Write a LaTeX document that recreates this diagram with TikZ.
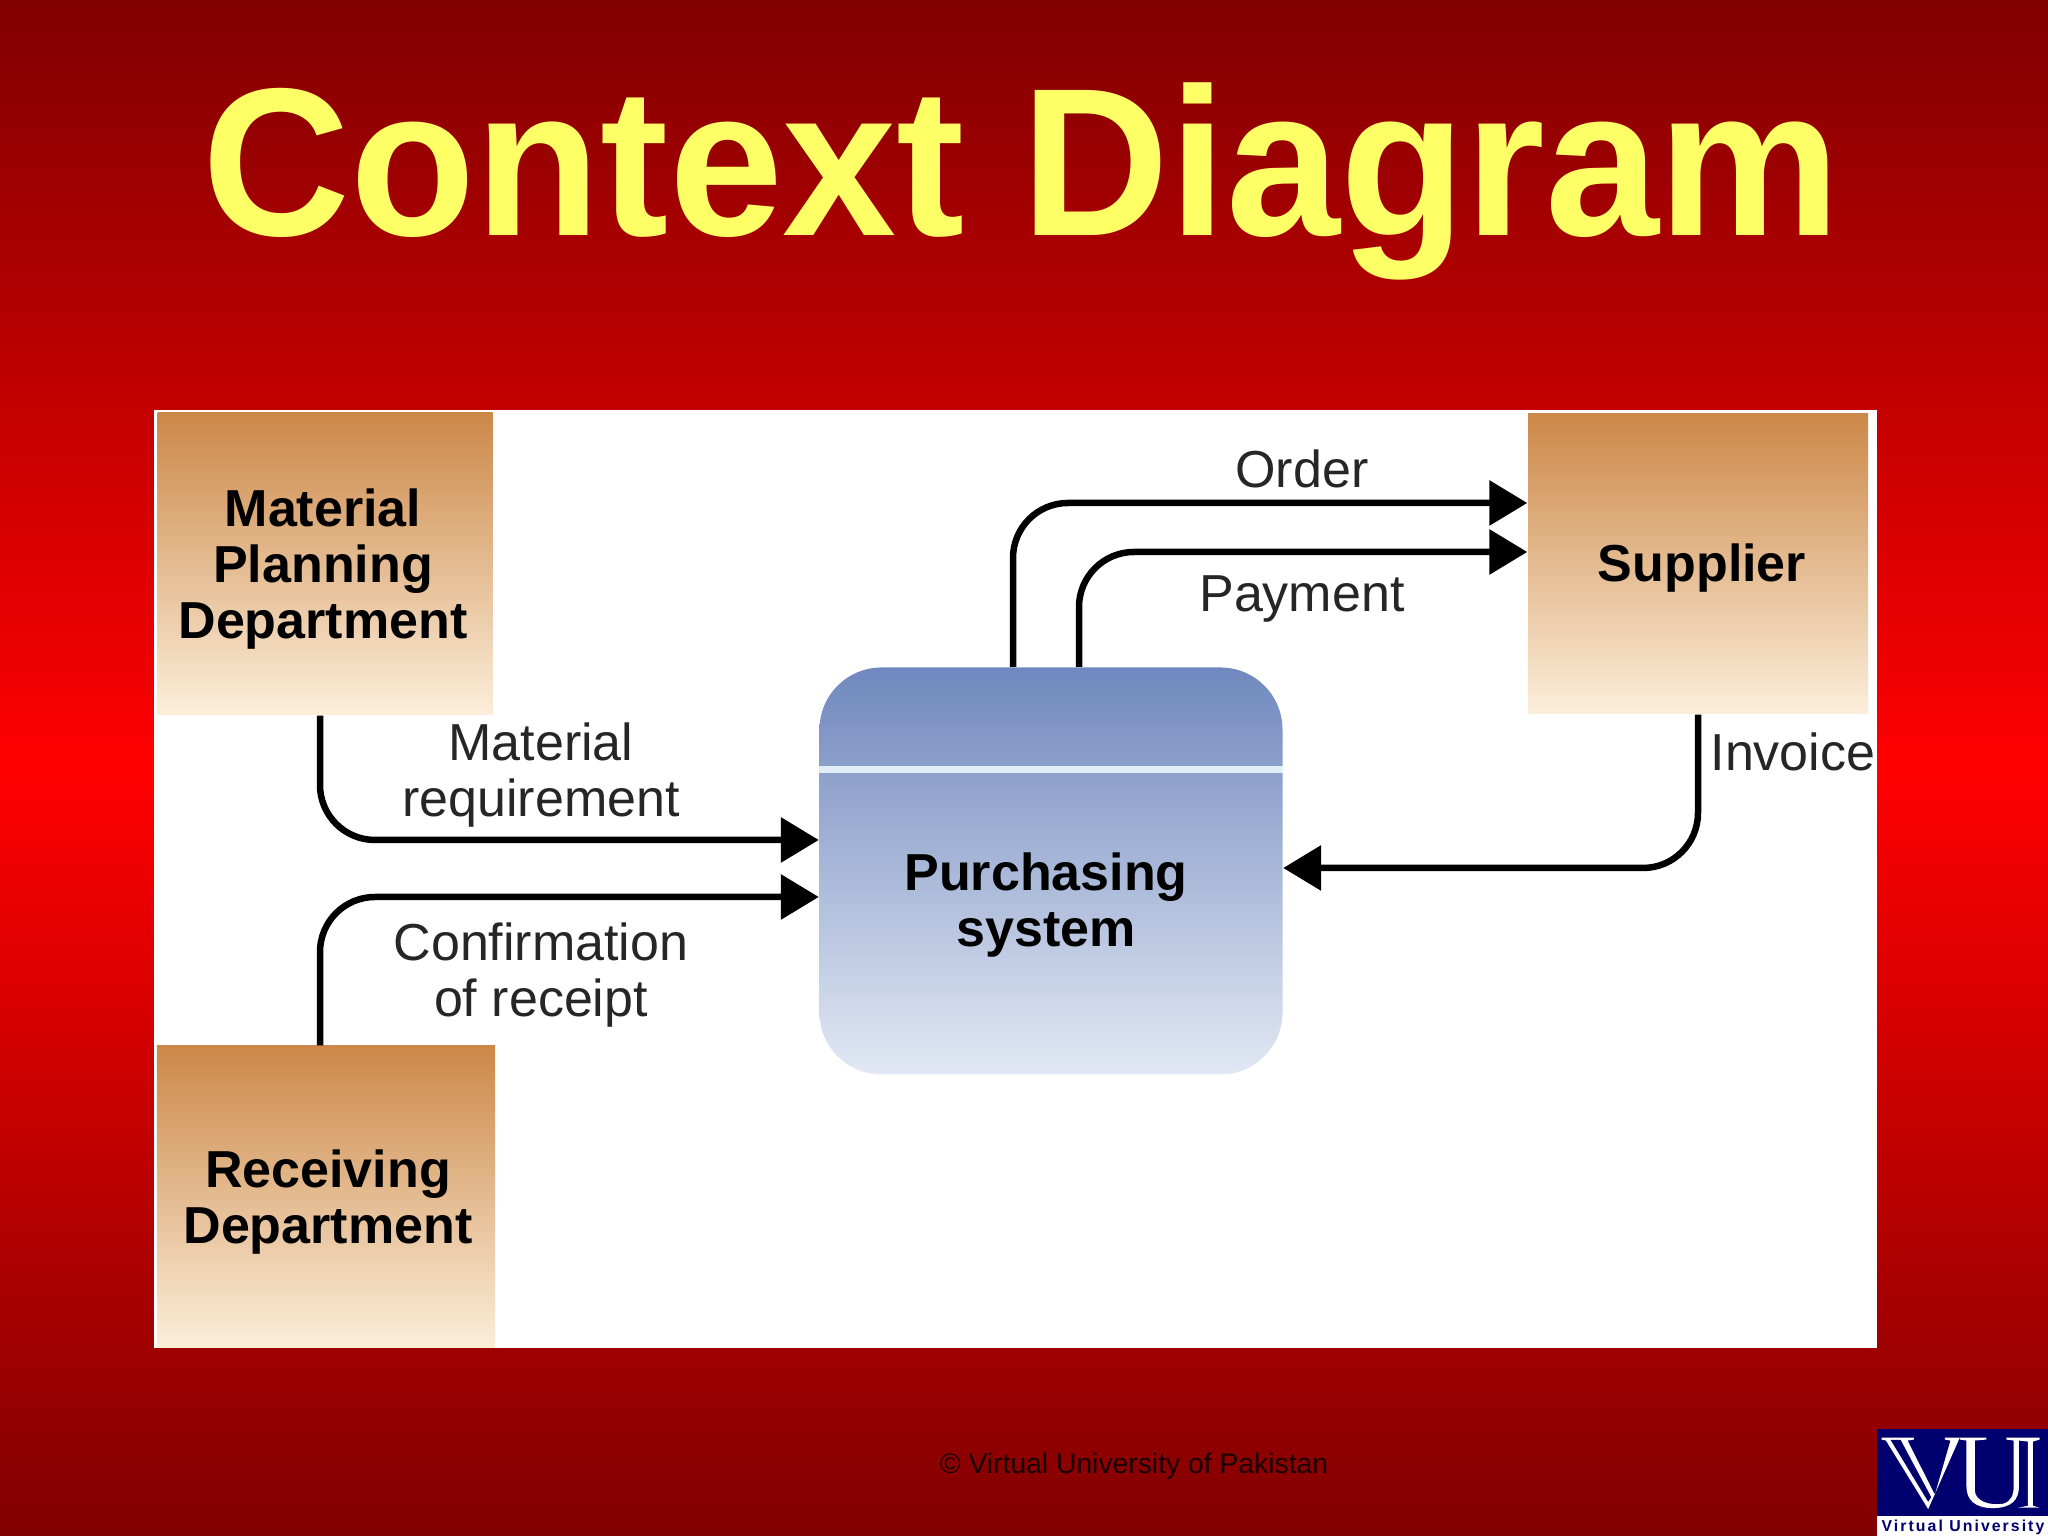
\documentclass[tikz,border=0pt]{standalone}
\usepackage{fontspec}
\setmainfont{Liberation Sans}
\usetikzlibrary{arrows.meta}
\definecolor{darkmaroon}{RGB}{128,0,0}
\definecolor{titleyellow}{RGB}{255,255,102}
\definecolor{boxtop}{RGB}{204,136,72}
\definecolor{boxbottom}{RGB}{252,238,218}
\definecolor{systop}{RGB}{112,136,190}
\definecolor{sysbottom}{RGB}{226,232,244}
\definecolor{sysline}{RGB}{226,238,246}
\definecolor{labelgrey}{RGB}{38,38,38}
\definecolor{vunavy}{RGB}{0,0,110}
\tikzset{
    deptbox/.style={inner sep=0pt, top color=boxtop, bottom color=boxbottom},
    boxtext/.style={inner sep=0pt, text=black, align=center, font=\fontsize{14.8}{16}\selectfont\bfseries},
    flowlabel/.style={inner sep=0pt, text=labelgrey, align=center, font=\fontsize{14.8}{16}\selectfont},
    flowline/.style={-{Triangle[length=.38cm, width=.44cm]}, line width=.065cm, rounded corners=.55cm, black}
}
\begin{document}
\begin{tikzpicture}
    \useasboundingbox (0,0) rectangle (20.48,15.36);
    \fill[top color=darkmaroon, bottom color=darkmaroon, middle color=red] (0,0) rectangle (20.48,15.36);

    \node[anchor=base, text=titleyellow, inner sep=0pt, transform shape, xscale=.971, font=\fontsize{60}{60}\selectfont\bfseries] (title) at (10.22, 13){Context Diagram};

    \fill[white] (1.54,1.88) rectangle (18.77,11.26);

    \node[deptbox, minimum width=3.35cm, minimum height=3.02cm] (material) at (3.25, 9.72){};
    \node[deptbox, minimum width=3.38cm, minimum height=3.02cm] (receiving) at (3.26, 3.39){};
    \node[deptbox, minimum width=3.40cm, minimum height=3cm] (supplier) at (16.98, 9.72){};
    \node[inner sep=0pt, minimum width=4.63cm, minimum height=4.07cm, rounded corners=.62cm,
        top color=systop, bottom color=sysbottom] (purchasing) at (10.51, 6.65){};

    \draw[sysline, line width=.07cm] ([yshift=1.01cm]purchasing.west) to ([yshift=1.01cm]purchasing.east);

    \node[boxtext] (materialtext) at (3.23, 9.67){Material\\Planning\\Department};
    \node[boxtext] (receivingtext) at (3.28, 3.34){Receiving\\Department};
    \node[boxtext] (suppliertext) at (17.02, 9.68){Supplier};
    \node[boxtext] (purchasingtext) at (10.46, 6.31){Purchasing\\system};

    \draw[flowline] ([xshift=-.05cm]material.south) |- ([yshift=.31cm]purchasing.west);
    \draw[flowline] ([xshift=-.06cm]receiving.north) |- ([yshift=-.26cm]purchasing.west);
    \draw[flowline] ([xshift=-.38cm]purchasing.north) |- ([yshift=.61cm]supplier.west);
    \draw[flowline] ([xshift=.28cm]purchasing.north) |- ([yshift=.12cm]supplier.west);
    \draw[flowline] (supplier.south) |- ([yshift=.03cm]purchasing.east);

    \node[flowlabel] (requirementlabel) at (5.41, 7.61){Material\\requirement};
    \node[flowlabel] (receiptlabel) at (5.41, 5.61){Confirmation\\of receipt};
    \node[flowlabel] (orderlabel) at (13.02, 10.67){Order};
    \node[flowlabel] (paymentlabel) at (13.02, 9.37){Payment};
    \node[flowlabel] (invoicelabel) at (17.93, 7.84){Invoice};

    \node[text=black!80!darkmaroon, inner sep=0pt, font=\fontsize{8.05}{9}\selectfont] (copyright) at (11.34, .7){© Virtual University of Pakistan};

    \fill[vunavy] (18.77,.2) rectangle (20.48,1.07);
    \fill[white] (18.77,0) rectangle (20.48,.2);
    \node[text=vunavy, inner sep=0pt, font=\fontsize{4.5}{5}\selectfont\bfseries\addfontfeature{LetterSpace=13}] (vutext) at (19.63, .09){Virtual University};
    \begin{scope}[shift={(18.6,1.36)}, x=.00333cm, y=-.00333cm]
        \fill[white] (65,113) to (162,113) to (162,119) to (143,122) to (225,285) to (272,122) to (255,119) to (255,113) to (300,113) to (205,328) to (78,122) to (65,119) -- cycle;
        \fill[vunavy] (92,120) to (122,120) to (214,292) to (205,306) -- cycle;
        \fill[white] (300,113) to (380,113) to (380,119) to (345,122) to (345,270) .. controls (345,305) and (390,318) .. (430,312) .. controls (455,305) and (462,285) .. (462,260) to (462,122) to (440,119) to (440,113) to (540,113) to (540,119) to (520,125) to (520,318) to (540,324) to (475,324) to (505,318) to (505,125) to (478,122) to (478,260) .. controls (478,300) and (455,325) .. (400,325) .. controls (345,325) and (320,300) .. (320,260) to (320,122) to (300,119) -- cycle;
    \end{scope}
\end{tikzpicture}
\end{document}
